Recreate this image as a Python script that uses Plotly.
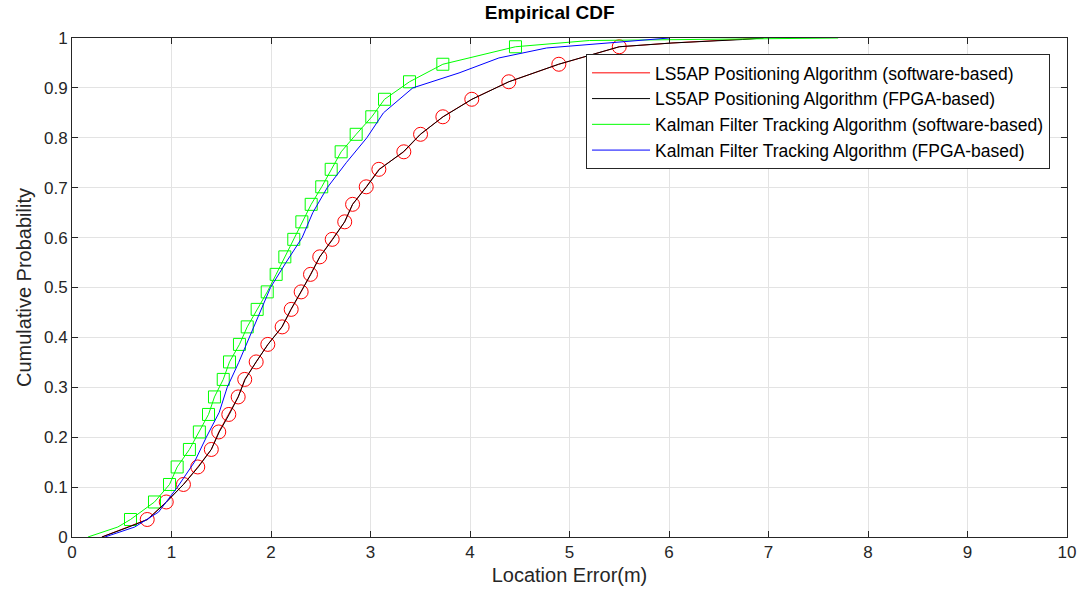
import plotly.graph_objects as go

# Empirical CDF quantiles: location error (m) at each cumulative probability level.
# Marker levels sit at every 10th of 285 sorted samples.
marker_prob = [i / 285 for i in range(10, 290, 10)]

# LS5AP positioning, software-based
ls5ap_sw_err = [0.30, 0.43, 0.56, 0.756, 0.947, 1.12, 1.264, 1.40, 1.475, 1.576, 1.67,
                1.736, 1.851, 1.968, 2.112, 2.203, 2.303, 2.397, 2.49, 2.615, 2.741,
                2.82, 2.957, 3.084, 3.335, 3.503, 3.727, 4.018, 4.39, 4.893, 5.50,
                6.03, 6.74, 6.95]
ls5ap_sw_cdf = [0.0, 0.01, 0.02] + marker_prob + [0.99, 0.997, 1.0]
ls5ap_sw_mark = [0.756, 0.947, 1.12, 1.264, 1.40, 1.475, 1.576, 1.67, 1.736, 1.851,
                 1.968, 2.112, 2.203, 2.303, 2.397, 2.49, 2.615, 2.741, 2.82, 2.957,
                 3.084, 3.335, 3.503, 3.727, 4.018, 4.39, 4.893, 5.50]

# LS5AP positioning, FPGA-based
ls5ap_hw_err = [0.30, 0.44, 0.57, 0.76, 0.95, 1.12, 1.27, 1.40, 1.48, 1.58, 1.67,
                1.74, 1.85, 1.97, 2.11, 2.20, 2.30, 2.40, 2.49, 2.62, 2.74,
                2.82, 2.96, 3.09, 3.33, 3.50, 3.73, 4.02, 4.39, 4.89, 5.50,
                6.03, 6.74, 6.95]
ls5ap_hw_cdf = ls5ap_sw_cdf

# Kalman filter tracking, software-based
kalman_sw_err = [0.16, 0.46, 0.588, 0.829, 0.98, 1.057, 1.18, 1.28, 1.372, 1.432, 1.52,
                 1.583, 1.683, 1.761, 1.861, 1.962, 2.052, 2.139, 2.229, 2.31, 2.404,
                 2.51, 2.605, 2.705, 2.856, 3.013, 3.141, 3.392, 3.727, 4.457,
                 5.2, 7.7]
kalman_sw_cdf = [0.0, 0.02] + marker_prob + [0.995, 1.0]
kalman_sw_mark = [0.588, 0.829, 0.98, 1.057, 1.18, 1.28, 1.372, 1.432, 1.52, 1.583,
                  1.683, 1.761, 1.861, 1.962, 2.052, 2.139, 2.229, 2.31, 2.404, 2.51,
                  2.605, 2.705, 2.856, 3.013, 3.141, 3.392, 3.727, 4.457]

# Kalman filter tracking, FPGA-based
kalman_hw_err = [0.33, 0.63, 0.87, 1.06, 1.23, 1.35, 1.48, 1.56, 1.676, 1.784, 1.884,
                 1.995, 2.15, 2.313, 2.42, 2.565, 2.756, 2.963, 3.13, 3.425, 3.89,
                 4.29, 4.77, 5.37, 6.0]
kalman_hw_cdf = [0.0, 0.02, 0.05, 0.10, 0.15, 0.20, 0.25, 0.30, 0.35, 0.40, 0.45,
                 0.50, 0.55, 0.60, 0.65, 0.70, 0.75, 0.80, 0.85, 0.90, 0.93,
                 0.96, 0.98, 0.99, 1.0]

x_ticks = list(range(0, 11))
y_ticks = [round(0.1 * i, 1) for i in range(11)]
y_tick_text = ["0", "0.1", "0.2", "0.3", "0.4", "0.5", "0.6", "0.7", "0.8", "0.9", "1"]

FONT = "Liberation Sans, Arial, sans-serif"
INK = "#262626"

fig = go.Figure()

fig.add_trace(go.Scatter(x=ls5ap_sw_mark, y=marker_prob, mode="markers",
                         marker=dict(symbol="circle-open", size=14, color="#ff0000",
                                     line=dict(width=1)),
                         showlegend=False, hoverinfo="skip"))
fig.add_trace(go.Scatter(x=kalman_sw_mark, y=marker_prob, mode="markers",
                         marker=dict(symbol="square-open", size=12, color="#00ff00",
                                     line=dict(width=1)),
                         showlegend=False, hoverinfo="skip"))

fig.add_trace(go.Scatter(x=ls5ap_sw_err, y=ls5ap_sw_cdf, mode="lines",
                         line=dict(color="#ff0000", width=1),
                         name="LS5AP Positioning Algorithm (software-based)"))
fig.add_trace(go.Scatter(x=ls5ap_hw_err, y=ls5ap_hw_cdf, mode="lines",
                         line=dict(color="#000000", width=1),
                         name="LS5AP Positioning Algorithm (FPGA-based)"))
fig.add_trace(go.Scatter(x=kalman_sw_err, y=kalman_sw_cdf, mode="lines",
                         line=dict(color="#00ff00", width=1),
                         name="Kalman Filter Tracking Algorithm (software-based)"))
fig.add_trace(go.Scatter(x=kalman_hw_err, y=kalman_hw_cdf, mode="lines",
                         line=dict(color="#0000ff", width=1),
                         name="Kalman Filter Tracking Algorithm (FPGA-based)"))

axis_common = dict(showline=True, linecolor=INK, linewidth=1, mirror="ticks",
                   ticks="inside", ticklen=6, tickcolor=INK, automargin=False,
                   showgrid=True, gridcolor="#e3e3e3", gridwidth=1, zeroline=False,
                   tickfont=dict(family=FONT, size=17, color=INK))

fig.update_layout(
    width=1082, height=598,
    margin=dict(l=72, r=15, t=38, b=61),
    paper_bgcolor="white", plot_bgcolor="white",
    title=dict(text="<b>Empirical CDF</b>", x=0.508, xanchor="center", y=0.99,
               yanchor="top", font=dict(family=FONT, size=19, color="black")),
    xaxis=dict(range=[0, 10], tickvals=x_ticks,
               title=dict(text="Location Error(m)", standoff=6,
                          font=dict(family=FONT, size=20, color=INK)),
               **axis_common),
    yaxis=dict(range=[0, 1], tickvals=y_ticks, ticktext=y_tick_text,
               title=dict(text="Cumulative Probability", standoff=6,
                          font=dict(family=FONT, size=20, color=INK)),
               **axis_common),
    legend=dict(x=0.5166, y=0.968, xanchor="left", yanchor="top",
                bgcolor="white", bordercolor=INK, borderwidth=1,
                font=dict(family=FONT, size=17.5, color="black"),
                tracegroupgap=0, itemwidth=58),
    showlegend=True,
)

fig.write_html("out.html")
